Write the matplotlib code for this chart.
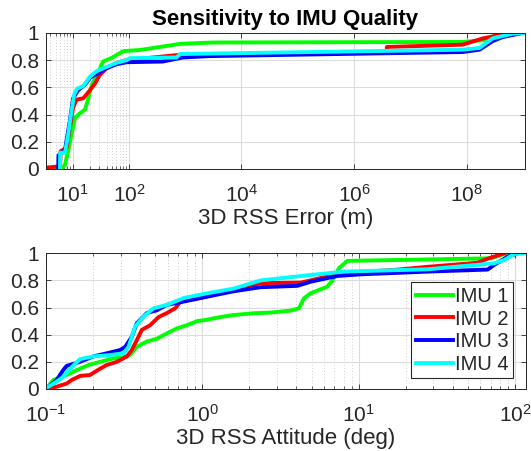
import matplotlib
matplotlib.use("Agg")
import matplotlib.pyplot as plt
from matplotlib.ticker import FixedLocator, FixedFormatter, LogFormatterSciNotation, NullFormatter
import numpy as np

plt.rcParams['font.family'] = ['Liberation Sans', 'DejaVu Sans']
plt.rcParams['mathtext.fontset'] = 'custom'
plt.rcParams['mathtext.rm'] = 'Liberation Sans'
plt.rcParams['mathtext.it'] = 'Liberation Sans'
plt.rcParams['mathtext.default'] = 'regular'

labels = ['IMU 1', 'IMU 2', 'IMU 3', 'IMU 4']
colors = ['#00ff00', '#ff0000', '#0000ff', '#00ffff']

# ---- Top panel: 3D RSS position error (m) CDF ----
err1_x = [3.36, 6.4, 7.3, 8.3, 9.5, 11.0, 13.5, 16.6, 19.0, 21.9, 26.9, 34.7, 49, 79, 158, 813, 3160, 8.5e7, 2.57e8, 3.5e8]
err1_y = [0, 0, 0.03, 0.13, 0.25, 0.375, 0.41, 0.436, 0.52, 0.62, 0.69, 0.79, 0.816, 0.866, 0.875, 0.92, 0.93, 0.934, 0.95, 1.0]
err2_x = [3.36, 6.0, 6.1, 7.8, 8.9, 10.2, 11.7, 15.5, 20.4, 25.1, 30.2, 39.8, 60, 91, 813, 3.8e6, 3.85e6, 8.5e7, 1.95e8, 5.9e8]
err2_y = [0.01, 0.02, 0.13, 0.155, 0.3, 0.45, 0.51, 0.52, 0.58, 0.63, 0.69, 0.74, 0.78, 0.8, 0.84, 0.857, 0.897, 0.914, 0.96, 1.0]
err3_x = [5.55, 5.6, 7.3, 8.9, 10.2, 12.6, 16.6, 20.4, 26.9, 39.8, 60, 91, 400, 912, 2750, 8.5e7, 1.7e8, 2.9e8, 4.4e8, 1.0e9]
err3_y = [0, 0.1, 0.14, 0.35, 0.52, 0.58, 0.62, 0.67, 0.70, 0.74, 0.77, 0.785, 0.79, 0.82, 0.83, 0.86, 0.877, 0.94, 0.97, 1.0]
err4_x = [5.96, 6.0, 7.3, 8.3, 9.5, 10.7, 12.0, 15.5, 20.4, 26.9, 39.8, 60, 91, 105, 700, 813, 8.5e7, 1.7e8, 2.9e8, 6.6e8, 1.09e9]
err4_y = [0, 0.12, 0.12, 0.25, 0.42, 0.55, 0.59, 0.61, 0.68, 0.72, 0.75, 0.78, 0.8, 0.815, 0.82, 0.845, 0.877, 0.89, 0.96, 0.995, 1.0]

# ---- Bottom panel: 3D RSS attitude error (deg) CDF ----
att1_x = [0.1, 0.1115, 0.126, 0.1426, 0.165, 0.191, 0.222, 0.27, 0.313, 0.345, 0.381, 0.442, 0.512, 0.594, 0.689, 0.797, 0.925, 1.07, 1.30, 1.585, 2.13, 2.73, 3.66, 4.15, 4.47, 4.92, 6.3, 6.8, 7.48, 8.46, 16.8, 70.2, 85.4, 90]
att1_y = [0, 0.066, 0.09, 0.115, 0.15, 0.18, 0.2, 0.226, 0.233, 0.25, 0.31, 0.35, 0.37, 0.41, 0.447, 0.47, 0.5, 0.51, 0.53, 0.545, 0.558, 0.563, 0.577, 0.595, 0.668, 0.705, 0.754, 0.8, 0.89, 0.944, 0.95, 0.963, 0.995, 1.0]
att2_x = [0.103, 0.117, 0.1355, 0.146, 0.165, 0.191, 0.222, 0.245, 0.284, 0.329, 0.354, 0.381, 0.41, 0.464, 0.525, 0.594, 0.671, 0.723, 0.97, 1.585, 2.36, 4.25, 4.92, 6.3, 8.46, 16.8, 27.5, 57.5, 66.8, 85.4]
att2_y = [0, 0.017, 0.04, 0.066, 0.096, 0.103, 0.15, 0.177, 0.2, 0.24, 0.287, 0.36, 0.435, 0.47, 0.53, 0.56, 0.595, 0.644, 0.67, 0.73, 0.78, 0.784, 0.8, 0.83, 0.857, 0.877, 0.9, 0.93, 0.96, 1.0]
att3_x = [0.1, 0.117, 0.129, 0.1355, 0.165, 0.201, 0.245, 0.298, 0.321, 0.354, 0.381, 0.442, 0.512, 0.594, 0.759, 0.97, 1.585, 2.36, 4.05, 4.92, 7.3, 10.3, 27.5, 66.8, 73.6, 89.7, 104]
att3_y = [0, 0.066, 0.14, 0.17, 0.2, 0.24, 0.263, 0.287, 0.31, 0.385, 0.484, 0.56, 0.58, 0.62, 0.644, 0.67, 0.72, 0.75, 0.76, 0.79, 0.833, 0.845, 0.865, 0.88, 0.914, 0.975, 1.0]
att4_x = [0.1, 0.117, 0.129, 0.1426, 0.165, 0.201, 0.257, 0.313, 0.337, 0.372, 0.42, 0.488, 0.594, 0.759, 1.07, 1.585, 2.36, 4.92, 8.05, 27.5, 73.6, 85.4, 99, 117.6]
att4_y = [0.005, 0.054, 0.09, 0.15, 0.22, 0.24, 0.25, 0.263, 0.31, 0.46, 0.533, 0.595, 0.62, 0.67, 0.705, 0.74, 0.8, 0.84, 0.865, 0.882, 0.926, 0.95, 0.995, 1.0]

yticks = [0, 0.2, 0.4, 0.6, 0.8, 1]
ytick_labels = ['0', '0.2', '0.4', '0.6', '0.8', '1']
top_xticks = [1e1, 1e2, 1e4, 1e6, 1e8]
top_minor = [4, 5, 6, 7, 8, 9, 20, 30, 40, 50, 60, 70, 80, 90]
bot_xticks = [1e-1, 1e0, 1e1, 1e2]
bot_minor = [m * d for d in [0.1, 1, 10] for m in range(2, 10)]

fig = plt.figure(figsize=(5.31, 4.51), dpi=100)
ax1 = fig.add_axes([0.0866, 0.6253, 0.902, 0.3016])
ax2 = fig.add_axes([0.0866, 0.1375, 0.904, 0.3009])

FS_TICK = 15
FS_LABEL = 16
FS_LEG = 14.5
spine_c = '#262626'

def style(ax, xticks, minor, xlim):
    ax.set_xscale('log')
    ax.set_xlim(*xlim)
    ax.set_ylim(0, 1)
    ax.xaxis.set_major_locator(FixedLocator(xticks))
    ax.xaxis.set_minor_locator(FixedLocator(minor))
    ax.xaxis.set_major_formatter(LogFormatterSciNotation())
    ax.xaxis.set_minor_formatter(NullFormatter())
    ax.yaxis.set_major_locator(FixedLocator(yticks))
    ax.yaxis.set_major_formatter(FixedFormatter(ytick_labels))
    ax.tick_params(which='both', direction='in', top=True, right=True, colors=spine_c,
                   labelcolor=spine_c, labelsize=FS_TICK)
    ax.tick_params(which='major', length=3.5, width=0.6)
    ax.tick_params(which='minor', length=2.0, width=0.5)
    ax.tick_params(axis='x', which='major', pad=11)
    ax.tick_params(axis='y', which='major', pad=5)
    ax.grid(True, which='major', color='#dcdcdc', linewidth=0.8)
    ax.grid(True, which='minor', axis='x', color='#cfcfcf', linestyle=(0, (1, 2)), linewidth=0.7)
    ax.set_axisbelow(True)
    for s in ax.spines.values():
        s.set_color(spine_c)
        s.set_linewidth(0.7)

LW = 2.8
for xs, ys, c, lab in zip([err1_x, err2_x, err3_x, err4_x], [err1_y, err2_y, err3_y, err4_y], colors, labels):
    ax1.plot(xs, ys, color=c, lw=LW, label=lab, solid_joinstyle='round')
for xs, ys, c, lab in zip([att1_x, att2_x, att3_x, att4_x], [att1_y, att2_y, att3_y, att4_y], colors, labels):
    ax2.plot(xs, ys, color=c, lw=LW, label=lab, solid_joinstyle='round')

style(ax1, top_xticks, top_minor, (3.36, 1.09e9))
style(ax2, bot_xticks, bot_minor, (0.1, 117.6))

ax1.set_title('Sensitivity to IMU Quality', fontsize=FS_LABEL, fontweight='bold', pad=6)
ax1.set_xlabel('3D RSS Error (m)', fontsize=FS_LABEL, color=spine_c, labelpad=1)
ax2.set_xlabel('3D RSS Attitude (deg)', fontsize=FS_LABEL, color=spine_c, labelpad=1)

leg = ax2.legend(loc='upper right', bbox_to_anchor=(0.973, 0.785), borderaxespad=0,
                 fontsize=FS_LEG, handlelength=1.85, handletextpad=0.1, labelspacing=0.18,
                 borderpad=0.22, fancybox=False, framealpha=1, edgecolor=spine_c)
leg.get_frame().set_linewidth(0.8)
for t in leg.get_texts():
    t.set_color(spine_c)

fig.savefig('out.png', dpi=100)
